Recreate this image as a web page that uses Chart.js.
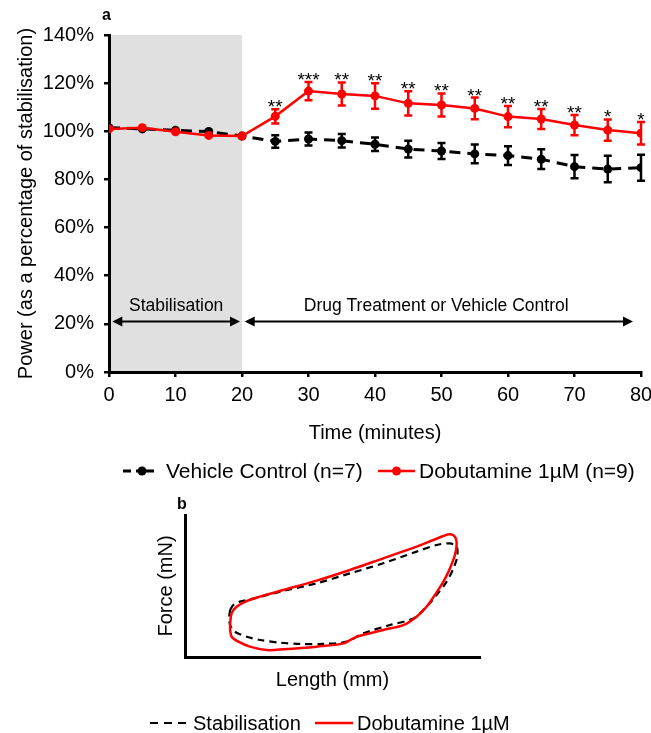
<!DOCTYPE html>
<html><head><meta charset="utf-8">
<script src="https://cdn.jsdelivr.net/npm/chart.js@4"></script>
<style>
html,body{margin:0;padding:0;background:#fff;}
#wrap{position:relative;width:651px;height:733px;overflow:hidden;}
.box{position:absolute;left:0;width:651px;}
</style></head><body>
<div id="wrap">
<div class="box" style="top:0;height:490px"><canvas id="c1" width="651" height="490"></canvas></div>
<div class="box" style="top:490px;height:243px"><canvas id="c2" width="651" height="243"></canvas></div>
</div>
<script>
// ---- Panel a data ----
const times = [0,5,10,15,20,25,30,35,40,45,50,55,60,65,70,75,80];
const vehicle = [101.5,101,100.4,99.9,98,95.8,96.8,96.1,94.6,92.6,91.8,90.6,89.9,88.4,85.3,84.3,84.9];
const vehicleErr = [0,0,0,0,0,2.6,2.7,2.8,2.8,3.5,3.3,3.9,3.9,4.1,4.8,5.5,5.4];
const dobutamine = [101,101.5,99.8,98.3,98,106.2,116.7,115.5,114.7,111.6,110.9,109.5,106.1,105.1,102.6,100.5,99.2];
const dobutamineErr = [0,0,0,0,0,3,3.8,4.8,5.3,5,4.8,4.5,4.4,4.2,4.2,4.4,4.7];
const significance = ['','','','','','**','***','**','**','**','**','**','**','**','**','*','*'];
const yTicks = [0,20,40,60,80,100,120,140];
const seriesLabels = ['Vehicle Control (n=7)','Dobutamine 1µM (n=9)'];
const phaseLabels = ['Stabilisation','Drug Treatment or Vehicle Control'];

// ---- Panel b data (work loops, arbitrary units) ----
const stabLength = [15.3,16.4,18.6,22.0,33.3,44.6,55.9,67.2,78.5,85.3,89.8,92.1,92.3,91.0,88.7,85.3,81.9,77.4,69.5,60.5,54.8,46.9,39.0,32.2,25.4,20.9,16.9,15.3,15.0,15.3];
const stabForce  = [33.1,36.6,39.0,40.6,46.5,51.9,58.9,66.0,74.2,78.9,80.0,77.7,70.7,62.4,53.1,43.7,35.4,27.2,22.5,16.7,10.8,9.2,9.2,10.1,12.0,14.3,17.8,22.5,28.4,33.1];
const dobLength = [15.3,15.8,17.5,20.9,25.4,33.3,44.6,55.9,67.2,78.5,84.2,87.6,89.8,91.5,92.1,91.5,89.8,87.6,84.7,81.9,78.5,74.0,67.2,58.2,53.7,44.6,33.3,27.7,22.0,18.1,15.8,15.3,15.3];
const dobForce  = [23.7,30.8,35.4,39.4,42.5,47.2,53.8,61.3,69.5,77.7,82.4,85.2,86.4,84.7,80.0,71.8,62.4,53.1,43.7,35.4,28.4,22.5,19.0,14.3,9.6,7.3,5.4,4.9,7.3,10.8,14.3,19.0,23.7];
const loopLabels = ['Stabilisation','Dobutamine 1µM'];

const FONT = "'Liberation Sans', Arial, sans-serif";
Chart.defaults.font.family = FONT;
Chart.defaults.color = '#000';
const RED = '#ff0000';

function arrowHead(ctx, x, y, dir){
  ctx.beginPath();
  ctx.moveTo(x, y);
  ctx.lineTo(x - dir*10, y - 5);
  ctx.lineTo(x - dir*10, y + 5);
  ctx.closePath();
  ctx.fill();
}
function dblArrow(ctx, x1, x2, y){
  ctx.beginPath(); ctx.moveTo(x1+6, y); ctx.lineTo(x2-6, y); ctx.stroke();
  arrowHead(ctx, x1, y, -1); arrowHead(ctx, x2, y, 1);
}

const panelA = {
  id: 'panelA',
  beforeDraw(chart){
    const {ctx, chartArea:a, scales:{x, y}} = chart;
    ctx.save();
    ctx.fillStyle = '#e0e0e0';
    const x0 = x.getPixelForValue(0), x1 = x.getPixelForValue(20);
    ctx.fillRect(x0, a.top, x1 - x0, a.bottom - a.top);
    ctx.restore();
  },
  afterDatasetsDraw(chart){
    const {ctx, scales:{x, y}} = chart;
    ctx.save();
    // error bars
    const sets = [[vehicle, vehicleErr, '#000'], [dobutamine, dobutamineErr, RED]];
    ctx.lineWidth = 2.5;
    sets.forEach(([vals, errs, col]) => {
      ctx.strokeStyle = col;
      times.forEach((t, i) => {
        if (!errs[i]) return;
        const px = x.getPixelForValue(t);
        const yt = y.getPixelForValue(vals[i] + errs[i]);
        const yb = y.getPixelForValue(vals[i] - errs[i]);
        ctx.beginPath();
        ctx.moveTo(px, yt); ctx.lineTo(px, yb);
        ctx.moveTo(px - 4, yt); ctx.lineTo(px + 4, yt);
        ctx.moveTo(px - 4, yb); ctx.lineTo(px + 4, yb);
        ctx.stroke();
      });
    });
    // significance stars
    ctx.fillStyle = '#000';
    ctx.font = '19px ' + FONT;
    ctx.textAlign = 'center';
    ctx.textBaseline = 'alphabetic';
    times.forEach((t, i) => {
      if (!significance[i]) return;
      const px = x.getPixelForValue(t);
      const yt = y.getPixelForValue(dobutamine[i] + dobutamineErr[i]);
      ctx.fillText(significance[i], px, yt + 4);
    });
    // phase arrows
    ctx.strokeStyle = '#000'; ctx.fillStyle = '#000'; ctx.lineWidth = 2;
    const ay = y.getPixelForValue(21);
    dblArrow(ctx, x.getPixelForValue(0.5), x.getPixelForValue(19.7), ay);
    dblArrow(ctx, x.getPixelForValue(20.4), x.getPixelForValue(78.8), ay);
    ctx.font = '17.5px ' + FONT;
    ctx.textBaseline = 'middle';
    const ty = y.getPixelForValue(27.3);
    ctx.fillText(phaseLabels[0], x.getPixelForValue(10.1), ty);
    ctx.fillText(phaseLabels[1], x.getPixelForValue(49.2), ty);
    ctx.restore();
  },
  afterDraw(chart){
    const ctx = chart.ctx;
    ctx.save();
    ctx.fillStyle = '#000';
    ctx.font = 'bold 16px ' + FONT;
    ctx.textAlign = 'left'; ctx.textBaseline = 'middle';
    ctx.fillText('a', 102, 16);
    // legend
    const ly = 471;
    ctx.lineWidth = 3; ctx.strokeStyle = '#000';
    ctx.beginPath(); ctx.moveTo(123, ly); ctx.lineTo(131, ly); ctx.moveTo(146, ly); ctx.lineTo(154, ly); ctx.stroke();
    ctx.beginPath(); ctx.moveTo(136, ly); ctx.lineTo(146, ly); ctx.stroke();
    ctx.beginPath(); ctx.arc(142, ly, 4.5, 0, Math.PI*2); ctx.fill();
    ctx.strokeStyle = RED; ctx.fillStyle = RED; ctx.lineWidth = 2.5;
    ctx.beginPath(); ctx.moveTo(378, ly); ctx.lineTo(415, ly); ctx.stroke();
    ctx.beginPath(); ctx.arc(396.5, ly, 4.5, 0, Math.PI*2); ctx.fill();
    ctx.fillStyle = '#000';
    ctx.font = '21px ' + FONT;
    ctx.fillText(seriesLabels[0], 166, ly + 1);
    ctx.fillText(seriesLabels[1], 419, ly + 1);
    ctx.restore();
  }
};

const axisCommon = {
  grid: {drawOnChartArea:false, drawTicks:true, tickLength:5, color:'#000', lineWidth:2.5},
  border: {color:'#000', width:3}
};

new Chart(document.getElementById('c1'), {
  type: 'line',
  data: {
    datasets: [
      {label: seriesLabels[0], data: times.map((t,i)=>({x:t, y:vehicle[i]})),
       borderColor:'#000', backgroundColor:'#000', borderWidth:3, borderDash:[11,7],
       pointRadius:4.5, pointBorderWidth:0, pointBackgroundColor:'#000', order:1},
      {label: seriesLabels[1], data: times.map((t,i)=>({x:t, y:dobutamine[i]})),
       borderColor:RED, backgroundColor:RED, borderWidth:2.5,
       pointRadius:4.5, pointBorderWidth:0, pointBackgroundColor:RED, order:0}
    ]
  },
  options: {
    responsive:false, animation:false,
    layout:{padding:{top:35, right:10, left:0, bottom:0}},
    plugins:{legend:{display:false}, tooltip:{enabled:false}},
    scales:{
      x:{type:'linear', min:0, max:80, ...axisCommon,
         ticks:{stepSize:10, font:{size:20}, color:'#000', padding:6, maxRotation:0},
         title:{display:true, text:'Time (minutes)', font:{size:20}, color:'#000', padding:{top:0, bottom:45}},
         afterFit:s=>{s.height=118; s.paddingLeft=0; s.paddingRight=0;}},
      y:{type:'linear', min:0, max:140, ...axisCommon,
         afterBuildTicks:s=>{s.ticks = yTicks.map(v=>({value:v}));},
         ticks:{callback:v=>v+'%', font:{size:20}, color:'#000', padding:10},
         title:{display:true, text:'Power (as a percentage of stabilisation)', font:{size:20}, color:'#000', padding:{top:14, bottom:0}},
         afterFit:s=>{s.width=109; s.paddingTop=0; s.paddingBottom=0;}}
    }
  },
  plugins:[panelA]
});

const panelB = {
  id:'panelB',
  afterDraw(chart){
    const ctx = chart.ctx;
    ctx.save();
    ctx.fillStyle = '#000';
    ctx.font = 'bold 16px ' + FONT;
    ctx.textAlign = 'left'; ctx.textBaseline = 'middle';
    ctx.fillText('b', 177, 15);
    const ly = 233;
    ctx.strokeStyle = '#000'; ctx.lineWidth = 2.2; ctx.setLineDash([8,6]);
    ctx.beginPath(); ctx.moveTo(150, ly); ctx.lineTo(190, ly); ctx.stroke();
    ctx.setLineDash([]);
    ctx.strokeStyle = RED; ctx.lineWidth = 2.5;
    ctx.beginPath(); ctx.moveTo(315, ly); ctx.lineTo(353, ly); ctx.stroke();
    ctx.font = '20px ' + FONT;
    ctx.fillText(loopLabels[0], 193, ly + 1);
    ctx.fillText(loopLabels[1], 357, ly + 1);
    ctx.restore();
  }
};

new Chart(document.getElementById('c2'), {
  type:'scatter',
  data:{datasets:[
    {label:loopLabels[0], data: stabLength.map((v,i)=>({x:v, y:stabForce[i]})), showLine:true,
     borderColor:'#000', borderWidth:2.2, borderDash:[7,5], pointRadius:0, tension:0.3, order:1},
    {label:loopLabels[1], data: dobLength.map((v,i)=>({x:v, y:dobForce[i]})), showLine:true,
     borderColor:RED, borderWidth:2.5, pointRadius:0, tension:0.3, order:0}
  ]},
  options:{
    responsive:false, animation:false,
    layout:{padding:{top:25, left:140, right:171, bottom:0}},
    plugins:{legend:{display:false}, tooltip:{enabled:false}},
    scales:{
      x:{type:'linear', min:0, max:100, ticks:{display:false}, grid:{display:false},
         border:{color:'#000', width:3},
         title:{display:true, text:'Length (mm)', font:{size:20}, color:'#000', padding:{top:0, bottom:41}},
         afterFit:s=>{s.height=76; s.paddingLeft=0; s.paddingRight=0;}},
      y:{type:'linear', min:0, max:100, ticks:{display:false}, grid:{display:false},
         border:{color:'#000', width:3},
         title:{display:true, text:'Force (mN)', font:{size:20}, color:'#000', padding:{top:14, bottom:0}},
         afterFit:s=>{s.width=45; s.paddingTop=0; s.paddingBottom=0;}}
    }
  },
  plugins:[panelB]
});
</script>
</body></html>
